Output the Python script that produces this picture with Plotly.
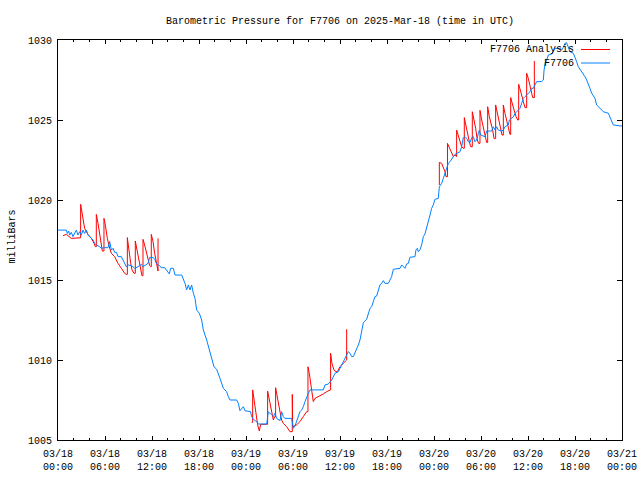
import pandas as pd
import plotly.graph_objects as go

BASE = pd.Timestamp("2025-03-18 00:00")

# Station observations (hours since 03/18 00:00 UTC, millibars)
obs_hours = [0.00, 0.85, 1.06, 1.19, 1.36, 1.49, 1.70, 1.91, 2.13, 2.34, 2.55, 2.77, 2.98, 3.19, 3.40, 3.62, 3.83, 4.04, 4.26, 4.47,
             4.68, 4.89, 5.32, 5.53, 5.96, 6.38, 6.60, 6.81, 7.02, 7.23, 7.45, 7.66, 8.09, 8.30, 8.51, 8.72, 8.94, 9.36, 9.57, 9.79,
             10.21, 10.64, 10.85, 11.06, 11.28, 11.49, 11.70, 12.13, 12.34, 12.55, 12.77, 12.98, 13.19, 13.62, 14.21, 14.38, 14.72, 14.94, 15.79, 16.00,
             16.21, 16.42, 16.64, 16.85, 17.06, 17.28, 17.49, 17.70, 18.04, 18.34, 18.55, 18.98, 19.19, 19.62, 19.91, 20.25, 20.47, 20.68, 21.11, 21.53,
             21.74, 21.96, 22.81, 23.02, 23.23, 23.45, 23.66, 23.87, 24.59, 24.72, 24.94, 25.36, 25.57, 26.64, 26.77, 26.85, 27.28, 27.49, 27.70, 27.91,
             28.34, 28.55, 28.77, 28.98, 29.83, 30.04, 30.26, 30.47, 30.68, 30.89, 31.11, 31.32, 31.53, 31.74, 31.96, 32.17, 33.87, 34.09, 34.51, 34.94,
             35.15, 35.36, 35.79, 36.00, 36.21, 36.43, 36.64, 36.85, 37.06, 37.28, 37.49, 37.70, 37.91, 38.13, 38.34, 38.55, 38.98, 39.40, 39.61, 39.83,
             40.04, 40.25, 40.46, 40.68, 40.89, 41.10, 41.32, 41.53, 41.74, 42.17, 42.38, 42.59, 42.81, 43.66, 43.87, 44.08, 44.29, 44.51, 44.72, 44.93,
             45.57, 45.70, 45.87, 46.00, 46.21, 46.42, 46.64, 46.85, 47.06, 47.27, 47.49, 47.70, 47.91, 48.12, 48.55, 48.68, 48.98, 49.19, 49.40, 49.62,
             49.83, 50.04, 50.26, 50.47, 50.68, 50.89, 51.32, 51.53, 51.74, 51.96, 52.17, 52.38, 52.60, 52.81, 53.02, 53.23, 53.45, 53.66, 53.79, 53.96,
             54.51, 54.72, 55.36, 55.57, 55.79, 56.00, 56.21, 56.64, 56.85, 57.06, 57.49, 57.62, 57.91, 58.13, 58.34, 58.55, 58.77, 58.98, 59.19, 59.40,
             59.62, 59.83, 60.04, 60.26, 60.47, 60.68, 60.89, 61.11, 61.74, 61.96, 62.04, 62.17, 62.38, 62.60, 63.02, 63.23, 63.44, 64.08, 64.30, 64.51,
             64.72, 64.93, 65.15, 65.36, 65.79, 66.00, 66.21, 66.42, 66.64, 66.85, 67.06, 67.27, 67.49, 67.70, 67.91, 68.13, 68.34, 68.55, 68.76, 69.19,
             69.40, 69.62, 70.26, 70.47, 70.68, 70.89, 71.74, 72.00]
obs_mb = [1018.12, 1018.12, 1018.12, 1017.91, 1018.06, 1017.81, 1017.98, 1017.71, 1017.91, 1018.12, 1017.81, 1018.02, 1017.81, 1018.12, 1017.91, 1018.12, 1017.81, 1017.71, 1017.60, 1017.50,
          1017.29, 1017.19, 1017.08, 1016.98, 1017.02, 1017.02, 1017.40, 1016.87, 1016.98, 1016.73, 1016.73, 1016.46, 1016.46, 1016.25, 1016.04, 1015.83, 1015.94, 1015.90, 1015.83, 1015.73,
          1015.83, 1015.98, 1015.83, 1015.90, 1015.94, 1016.04, 1016.40, 1016.40, 1016.31, 1016.04, 1015.94, 1015.90, 1015.77, 1015.77, 1015.38, 1015.73, 1015.73, 1015.31, 1015.31, 1015.10,
          1014.79, 1014.38, 1014.69, 1014.38, 1014.69, 1014.17, 1013.85, 1013.13, 1012.92, 1012.50, 1011.88, 1011.25, 1010.83, 1010.10, 1009.58, 1009.42, 1009.17, 1008.85, 1008.23, 1008.02,
          1007.71, 1007.50, 1007.50, 1007.29, 1006.83, 1006.98, 1007.08, 1006.83, 1006.77, 1006.46, 1006.29, 1006.15, 1006.00, 1006.00, 1006.46, 1006.77, 1006.56, 1006.46, 1006.67, 1006.35,
          1006.21, 1006.77, 1006.46, 1006.35, 1006.35, 1005.73, 1005.88, 1006.15, 1006.46, 1006.77, 1006.88, 1007.08, 1007.40, 1007.71, 1007.92, 1008.13, 1008.13, 1008.44, 1008.50, 1008.75,
          1008.96, 1009.17, 1009.27, 1009.48, 1009.69, 1009.90, 1010.10, 1010.31, 1010.52, 1010.42, 1010.21, 1010.21, 1010.42, 1010.63, 1010.94, 1011.25, 1012.33, 1012.54, 1012.92, 1013.23,
          1013.33, 1013.65, 1013.96, 1014.00, 1014.38, 1014.69, 1014.79, 1014.96, 1014.79, 1014.79, 1015.00, 1015.21, 1015.67, 1015.73, 1015.94, 1015.83, 1015.73, 1016.00, 1016.04, 1016.42,
          1016.46, 1016.88, 1016.98, 1016.77, 1016.88, 1017.19, 1017.71, 1017.88, 1018.33, 1018.75, 1019.06, 1019.48, 1019.69, 1020.04, 1020.10, 1020.83, 1021.04, 1021.35, 1021.66, 1021.98,
          1022.29, 1022.39, 1022.60, 1022.71, 1022.85, 1022.91, 1023.02, 1023.33, 1023.89, 1023.96, 1023.85, 1023.64, 1023.60, 1023.89, 1023.96, 1023.64, 1023.75, 1024.16, 1024.37, 1024.06,
          1023.96, 1024.31, 1024.31, 1024.58, 1024.37, 1024.58, 1024.37, 1024.31, 1024.37, 1024.58, 1024.69, 1025.00, 1025.10, 1025.20, 1025.41, 1025.52, 1025.62, 1025.73, 1026.04, 1026.35,
          1026.46, 1026.56, 1026.66, 1026.77, 1026.98, 1026.98, 1027.19, 1027.40, 1027.40, 1027.50, 1028.06, 1028.54, 1028.75, 1029.06, 1029.12, 1029.27, 1029.48, 1029.48, 1029.38, 1029.54,
          1029.79, 1029.83, 1029.48, 1029.27, 1029.17, 1028.96, 1028.65, 1028.33, 1028.17, 1028.02, 1027.92, 1027.71, 1027.50, 1027.29, 1026.98, 1026.67, 1026.46, 1026.35, 1025.94, 1025.73,
          1025.63, 1025.52, 1025.42, 1025.21, 1025.00, 1024.69, 1024.63, 1024.63]

# Analysis series (None marks a gap between runs; repeated hours are jumps)
ana_hours = [0.64, 1.06, 1.70, 2.77, 2.89, 2.89, 3.19, 3.40, 3.83, 4.26, 4.60, 4.77, 4.89, 4.89, 5.11, 5.32, 5.53, 5.66, 5.87, 5.87,
             6.04, 6.30, 6.60, 6.81, 7.23, 7.66, 8.09, 8.51, 8.72, 8.85, 8.85, 9.06, 9.28, 9.45, 9.70, 9.87, 9.87, 10.09, 10.30, 10.55,
             10.72, 10.85, 10.85, 11.06, 11.28, 11.49, 11.70, 11.83, 11.91, 11.91, 12.13, 12.34, 12.55, 12.68, 12.77, 12.77, None,
             24.72, 24.85, 24.85, 25.02, 25.14, 25.36, 25.49, 25.70, 25.87, 26.63, 26.76, 26.76, 26.97, 27.14, 27.36, 27.49, 27.66, 27.78, 27.78, 28.00,
             28.21, 28.42, 28.55, 28.76, 29.19, 29.61, 29.91, 29.91, 29.96, 30.46, 30.89, 31.31, 31.74, 31.91, 31.91, 32.08, 32.25, 32.42, 32.59, 32.80,
             33.44, 33.87, 34.29, 34.63, 34.80, 34.80, 34.97, 35.23, 35.49, 35.66, 36.00, 36.42, 36.76, 36.85, 36.85, None,
             48.68, 48.68, 48.98, 49.19, 49.40, 49.53, 49.72, 49.72, 50.04, 50.26, 50.47, 50.68, 50.81, 50.89, 50.89, 51.11, 51.32, 51.53, 51.74, 51.87,
             51.87, 52.09, 52.30, 52.51, 52.68, 52.89, 52.89, 53.11, 53.32, 53.53, 53.70, 53.87, 53.87, 54.09, 54.30, 54.51, 54.72, 54.85, 54.85, 55.06,
             55.28, 55.49, 55.66, 55.87, 55.87, 56.09, 56.30, 56.51, 56.68, 56.85, 56.85, 57.06, 57.28, 57.49, 57.70, 57.79, 57.79, 58.04, 58.26, 58.47,
             58.68, 58.81, 58.81, 58.98, 59.19, 59.40, 59.62, 59.83, 59.83, 60.04, 60.26, 60.47, 60.60, 60.81, 60.81]
ana_mb = [1017.77, 1017.85, 1017.60, 1017.62, 1017.64, 1019.73, 1018.86, 1018.23, 1017.85, 1017.60, 1017.29, 1017.08, 1017.08, 1019.10, 1018.54, 1017.81, 1017.08, 1016.81, 1016.81, 1018.85,
          1018.44, 1017.60, 1016.98, 1016.67, 1016.46, 1016.04, 1015.73, 1015.42, 1015.35, 1015.35, 1017.65, 1016.77, 1016.04, 1015.63, 1015.42, 1015.42, 1017.44, 1016.87, 1016.25, 1015.63,
          1015.27, 1015.27, 1017.54, 1017.19, 1016.67, 1016.35, 1015.90, 1015.83, 1015.83, 1017.85, 1017.40, 1016.67, 1016.04, 1015.56, 1015.56, 1017.60, None,
          1006.10, 1006.10, 1008.13, 1007.50, 1006.98, 1006.25, 1005.94, 1005.56, 1005.98, 1005.98, 1005.98, 1008.06, 1007.50, 1007.08, 1006.46, 1006.25, 1006.46, 1006.46, 1008.27, 1007.60,
          1006.98, 1006.56, 1006.25, 1006.04, 1005.83, 1005.52, 1005.52, 1007.85, 1005.83, 1005.94, 1006.15, 1006.46, 1006.77, 1006.77, 1009.58, 1009.17, 1008.54, 1007.92, 1007.40, 1007.60,
          1007.75, 1007.88, 1008.02, 1008.13, 1008.13, 1010.42, 1009.79, 1009.38, 1009.27, 1009.27, 1009.58, 1009.79, 1010.00, 1010.00, 1011.92, None,
          1020.94, 1022.35, 1022.29, 1022.08, 1021.77, 1021.46, 1021.46, 1023.54, 1023.23, 1022.92, 1022.71, 1022.81, 1022.71, 1022.71, 1024.37, 1023.96, 1023.54, 1023.33, 1023.23, 1023.23,
          1025.15, 1024.58, 1024.06, 1023.64, 1023.33, 1023.33, 1025.52, 1025.00, 1024.48, 1023.75, 1023.54, 1023.54, 1025.60, 1025.00, 1024.48, 1023.96, 1023.60, 1023.60, 1025.83, 1025.21,
          1024.79, 1024.37, 1023.85, 1023.85, 1025.94, 1025.42, 1024.90, 1024.48, 1024.06, 1024.06, 1025.94, 1025.42, 1024.90, 1024.48, 1024.10, 1024.10, 1026.40, 1025.94, 1025.52, 1025.21,
          1025.00, 1025.00, 1027.23, 1026.98, 1026.56, 1026.15, 1025.77, 1025.77, 1027.92, 1027.60, 1027.19, 1026.77, 1026.40, 1026.40, 1028.69]

tick_hours = [0, 6, 12, 18, 24, 30, 36, 42, 48, 54, 60, 66, 72]
tick_labels = ["03/18<br>00:00", "03/18<br>06:00", "03/18<br>12:00", "03/18<br>18:00",
               "03/19<br>00:00", "03/19<br>06:00", "03/19<br>12:00", "03/19<br>18:00",
               "03/20<br>00:00", "03/20<br>06:00", "03/20<br>12:00", "03/20<br>18:00",
               "03/21<br>00:00"]
minor_hours = list(range(0, 73, 2))
y_ticks = [1005, 1010, 1015, 1020, 1025, 1030]

series_names = ["F7706 Analysis", "F7706"]
series_colors = ["#ff0000", "#0080ff"]


def to_time(hours):
    return [None if h is None else BASE + pd.Timedelta(hours=h) for h in hours]


FONT = "Liberation Mono, DejaVu Sans Mono, monospace"

fig = go.Figure()
fig.add_trace(go.Scatter(x=to_time(ana_hours), y=ana_mb, mode="lines", name=series_names[0],
                         line=dict(color=series_colors[0], width=1), connectgaps=False))
fig.add_trace(go.Scatter(x=to_time(obs_hours), y=obs_mb, mode="lines", name=series_names[1],
                         line=dict(color=series_colors[1], width=1)))

# Body margin is removed in the page (see post_script), so layout is in page pixels.
W, H = 640, 480
PL, PR, PT, PB = 58, 622, 40, 440          # plot box in page pixels
ML, MT = PL, PT
MR, MB = W - PR, H - PB
PW, PH = PR - PL, PB - PT


def px_x(px):
    return (px - PL) / PW


def px_y(py):
    return (PB - py) / PH


annotations = []
shapes = []
for i, (name, col) in enumerate(zip(series_names, series_colors)):
    yy = px_y(49.5 + 13.5 * i)
    annotations.append(dict(x=px_x(576), y=yy, xref="paper", yref="paper", text=name,
                            showarrow=False, xanchor="right", yanchor="middle",
                            font=dict(family=FONT, size=10, color="black")))
    shapes.append(dict(type="line", xref="paper", yref="paper", x0=px_x(581), x1=px_x(610),
                       y0=yy, y1=yy, line=dict(color=col, width=1)))

annotations.append(dict(x=px_x(11.5), y=px_y(237), xref="paper", yref="paper", text="milliBars",
                        textangle=-90, showarrow=False, xanchor="center", yanchor="middle",
                        font=dict(family=FONT, size=10, color="black")))

fig.update_layout(
    width=W, height=H,
    margin=dict(l=ML, r=MR, t=MT, b=MB, pad=0, autoexpand=False),
    paper_bgcolor="white", plot_bgcolor="white",
    showlegend=False,
    hovermode=False,
    font=dict(family=FONT, size=10, color="black"),
    title=dict(text="Barometric Pressure for F7706 on 2025-Mar-18 (time in UTC)",
               x=px_x(340), xref="paper", xanchor="center", y=1 - 20 / H, yanchor="middle",
               font=dict(family=FONT, size=10, color="black")),
    annotations=annotations,
    shapes=shapes,
)
fig.update_xaxes(
    range=[BASE, BASE + pd.Timedelta(hours=72)],
    automargin=False,
    tickmode="array", tickvals=to_time(tick_hours), ticktext=tick_labels,
    ticks="inside", ticklen=4, tickcolor="black", tickwidth=1,
    ticklabelstandoff=4, ticklabeloverflow="allow",
    minor=dict(tickmode="array", tickvals=to_time(minor_hours), ticks="inside", ticklen=2,
               tickcolor="black", tickwidth=1, showgrid=False),
    showline=True, linecolor="black", linewidth=1, mirror="ticks",
    showgrid=False, zeroline=False,
    tickfont=dict(family=FONT, size=10, color="black"),
)
fig.update_yaxes(
    range=[1005, 1030],
    automargin=False,
    tickmode="array", tickvals=y_ticks, ticktext=[str(v) for v in y_ticks],
    ticks="inside", ticklen=5, tickcolor="black", tickwidth=1,
    ticklabelstandoff=3,
    showline=True, linecolor="black", linewidth=1, mirror="ticks",
    showgrid=False, zeroline=False,
    tickfont=dict(family=FONT, size=10, color="black"),
)

fig.write_html("out.html",
               config={"displayModeBar": False, "staticPlot": True},
               post_script="document.body.style.margin='0px';document.body.style.overflow='hidden';")
